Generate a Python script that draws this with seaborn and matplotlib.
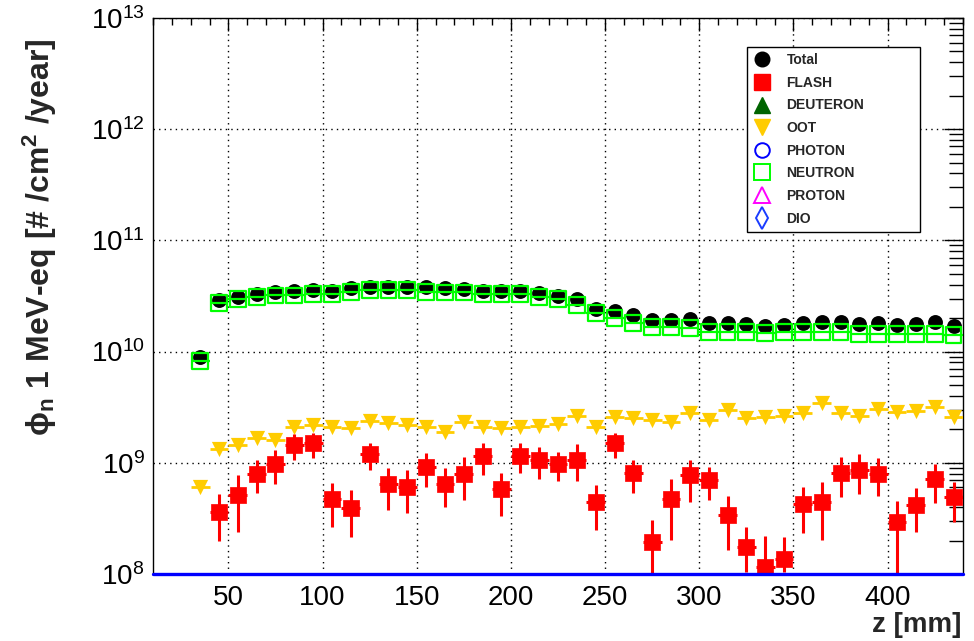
import numpy as np
import pandas as pd
import matplotlib
matplotlib.use("Agg")
import matplotlib.pyplot as plt
import seaborn as sns
from matplotlib.lines import Line2D
from matplotlib.ticker import LogLocator, MultipleLocator, NullFormatter

# ---------------- data ----------------
z = [35, 45, 55, 65, 75, 85, 95, 105, 115, 125, 135, 145, 155, 165, 175, 185,
     195, 205, 215, 225, 235, 245, 255, 265, 275, 285, 295, 305, 315, 325, 335,
     345, 355, 365, 375, 385, 395, 405, 415, 425, 435]

total = [8.9e9, 2.91e10, 3.12e10, 3.30e10, 3.46e10, 3.50e10, 3.58e10, 3.54e10,
         3.70e10, 3.84e10, 3.84e10, 3.78e10, 3.78e10, 3.70e10, 3.67e10, 3.54e10,
         3.48e10, 3.50e10, 3.39e10, 3.16e10, 2.95e10, 2.42e10, 2.33e10, 2.13e10,
         1.92e10, 1.92e10, 1.95e10, 1.80e10, 1.80e10, 1.77e10, 1.70e10, 1.74e10,
         1.80e10, 1.86e10, 1.83e10, 1.78e10, 1.80e10, 1.74e10, 1.77e10, 1.83e10,
         1.70e10]

neutron = [8.3e9, 2.75e10, 2.97e10, 3.12e10, 3.20e10, 3.20e10, 3.30e10, 3.30e10,
           3.44e10, 3.55e10, 3.55e10, 3.55e10, 3.46e10, 3.40e10, 3.40e10, 3.30e10,
           3.30e10, 3.30e10, 3.12e10, 2.95e10, 2.62e10, 2.24e10, 2.00e10, 1.80e10,
           1.67e10, 1.66e10, 1.62e10, 1.51e10, 1.51e10, 1.49e10, 1.48e10, 1.49e10,
           1.50e10, 1.50e10, 1.50e10, 1.43e10, 1.43e10, 1.44e10, 1.44e10, 1.44e10,
           1.40e10]

oot = [6.1e8, 1.34e9, 1.46e9, 1.66e9, 1.60e9, 2.08e9, 2.19e9, 2.08e9, 2.04e9,
       2.39e9, 2.27e9, 2.19e9, 2.11e9, 1.91e9, 2.31e9, 2.11e9, 2.04e9, 2.08e9,
       2.13e9, 2.25e9, 2.64e9, 2.11e9, 2.60e9, 2.51e9, 2.43e9, 2.35e9, 2.79e9,
       2.45e9, 2.98e9, 2.51e9, 2.60e9, 2.64e9, 2.83e9, 3.43e9, 2.79e9, 2.64e9,
       3.05e9, 2.89e9, 2.92e9, 3.20e9, 2.60e9]

flash = [np.nan, 3.63e8, 5.13e8, 8.0e8, 9.75e8, 1.45e9, 1.52e9, 4.72e8, 3.89e8,
         1.20e9, 6.44e8, 6.10e8, 9.2e8, 6.44e8, 8.0e8, 1.15e9, 5.78e8, 1.15e9,
         1.06e9, 9.75e8, 1.07e9, 4.4e8, 1.50e9, 8.15e8, 1.95e8, 4.7e8, 7.76e8,
         7.0e8, 3.39e8, 1.74e8, 1.16e8, 1.36e8, 4.3e8, 4.47e8, 8.15e8, 8.6e8,
         8.0e8, 2.92e8, 4.17e8, 7.1e8, 4.9e8]

flash_hi = [np.nan, 5.25e8, 7.8e8, 1.07e9, 1.30e9, 1.82e9, 1.86e9, 6.6e8, 5.7e8,
            1.51e9, 9.0e8, 8.6e8, 1.22e9, 8.9e8, 1.12e9, 1.50e9, 8.1e8, 1.50e9,
            1.38e9, 1.26e9, 1.47e9, 6.3e8, 1.86e9, 1.07e9, 3.06e8, 7.2e8, 1.06e9,
            9.2e8, 5.0e8, 2.63e8, 2.2e8, 2.16e8, 6.1e8, 6.76e8, 1.12e9, 1.20e9,
            1.10e9, 4.5e8, 5.9e8, 9.8e8, 6.76e8]

flash_lo = [np.nan, 2.0e8, 2.4e8, 5.4e8, 6.5e8, 1.05e9, 1.10e9, 2.63e8, 2.14e8,
            8.6e8, 3.76e8, 3.55e8, 6.0e8, 4.03e8, 4.62e8, 7.8e8, 3.3e8, 8.1e8,
            7.1e8, 6.8e8, 6.9e8, 2.48e8, 1.10e9, 5.4e8, 5.0e7, 2.04e8, 4.47e8,
            4.62e8, 1.66e8, 1.05e8, 5.0e7, 1.05e8, 2.34e8, 2.04e8, 4.9e8, 5.25e8,
            5.0e8, 5.0e7, 2.4e8, 4.37e8, 2.95e8]

legend_labels = ["Total", "FLASH", "DEUTERON", "OOT", "PHOTON", "NEUTRON", "PROTON", "DIO"]
x_ticks = [50, 100, 150, 200, 250, 300, 350, 400]

df = pd.DataFrame({"z": z, "total": total, "neutron": neutron, "oot": oot,
                   "flash": flash, "flash_hi": flash_hi, "flash_lo": flash_lo})

# ---------------- style ----------------
sns.set_theme(style="white")
plt.rcParams["font.family"] = ["Liberation Sans", "DejaVu Sans"]
plt.rcParams["mathtext.fontset"] = "custom"
plt.rcParams["mathtext.rm"] = "Liberation Sans"
plt.rcParams["mathtext.it"] = "Liberation Sans:italic"
plt.rcParams["mathtext.bf"] = "Liberation Sans:bold"

W, H = 974, 641
fig = plt.figure(figsize=(W / 100, H / 100), dpi=100)
fig.patch.set_facecolor("white")
ax = fig.add_axes([153 / W, 67 / H, 810 / W, 556 / H])
ax.set_facecolor("white")

RED = "#ff0000"
YEL = "#ffcc00"
GRN = "#00ff00"

ax.set_yscale("log")
ax.set_xlim(10, 440)
ax.set_ylim(1e8, 1e13)

# grid
ax.grid(True, which="major", color="black", linestyle=(0, (1, 3)), linewidth=1.0)
ax.set_axisbelow(True)

# Total
sns.scatterplot(data=df, x="z", y="total", marker="o", s=115, color="black",
                edgecolor="black", linewidth=0, ax=ax, legend=False, zorder=3)

# Neutron
ax.errorbar(df["z"], df["neutron"], xerr=5, fmt="none", ecolor=GRN,
            elinewidth=1.6, capsize=0, zorder=4)
sns.scatterplot(data=df, x="z", y="neutron", marker="s", s=130, color=GRN,
                facecolor="none", edgecolor=GRN, linewidth=1.6, ax=ax,
                legend=False, zorder=4)

# OOT
ax.errorbar(df["z"], df["oot"], xerr=5, fmt="none", ecolor=YEL,
            elinewidth=2.0, linestyle=(0, (1, 2)), capsize=0, zorder=3)
sns.scatterplot(data=df, x="z", y="oot", marker="v", s=120, color=YEL,
                edgecolor=YEL, linewidth=0, ax=ax, legend=False, zorder=3)

# FLASH
fl = df.dropna()
yerr = np.vstack([fl["flash"] - fl["flash_lo"], fl["flash_hi"] - fl["flash"]])
ax.errorbar(fl["z"], fl["flash"], yerr=yerr, xerr=5, fmt="none", ecolor=RED,
            elinewidth=2.2, capsize=0, zorder=3)
sns.scatterplot(data=fl, x="z", y="flash", marker="s", s=130, color=RED,
                edgecolor=RED, linewidth=0.5, ax=ax, legend=False, zorder=3)

# blue baseline (graphs at zero)
ax.axhline(1e8, color="#0000ff", lw=2.4, clip_on=False, zorder=5)

# ticks
ax.xaxis.set_major_locator(plt.FixedLocator(x_ticks))
ax.xaxis.set_minor_locator(MultipleLocator(10))
ax.yaxis.set_major_locator(LogLocator(base=10, numticks=10))
ax.yaxis.set_minor_locator(LogLocator(base=10, subs=np.arange(2, 10), numticks=20))
ax.yaxis.set_minor_formatter(NullFormatter())
ax.tick_params(which="both", direction="in", top=True, right=True,
               colors="black", labelcolor="black", width=1)
ax.tick_params(axis="x", which="major", length=9, labelsize=20, pad=8)
ax.tick_params(axis="x", which="minor", length=5)
ax.tick_params(axis="y", which="major", length=14, labelsize=20, pad=6)
ax.tick_params(axis="y", which="minor", length=10)
for s in ax.spines.values():
    s.set_color("black")
    s.set_linewidth(1.0)
ax.set_xlabel("")
ax.set_ylabel("")

fig.text(961 / W, 3 / H, "z [mm]", ha="right", va="bottom",
         fontsize=20, fontweight="bold")
fig.text(40 / W, 1 - 237 / H,
         r"ϕ$_{\mathbf{n}}$ 1 MeV-eq [# /cm$^{\mathbf{2}}$ /year]",
         rotation=90, ha="center", va="center", fontsize=23, fontweight="bold")

# legend
handles = [
    Line2D([], [], ls="none", marker="o", ms=10.5, color="black", mec="black"),
    Line2D([], [], ls="none", marker="s", ms=11, color=RED, mec=RED),
    Line2D([], [], ls="none", marker="^", ms=11, color="#006400", mec="#006400"),
    Line2D([], [], ls="none", marker="v", ms=11, color=YEL, mec=YEL),
    Line2D([], [], ls="none", marker="o", ms=10.5, mfc="none", mec="#0000ff", mew=1.4),
    Line2D([], [], ls="none", marker="s", ms=11, mfc="none", mec=GRN, mew=1.4),
    Line2D([], [], ls="none", marker="^", ms=12, mfc="none", mec="#ff00ff", mew=1.4),
    Line2D([], [], ls="none", marker="d", ms=11, mfc="none", mec="#1a3cff", mew=1.4),
]
x0 = (747 - 153) / 810
y0 = (574 - 234) / 556
leg = ax.legend(handles, legend_labels, loc="upper left", mode="expand",
                bbox_to_anchor=(x0, y0, (920 - 747) / 810, (234 - 47) / 556),
                frameon=True, fancybox=False, shadow=False, framealpha=1,
                edgecolor="black", prop={"weight": "bold", "size": 10},
                labelspacing=0.62, handlelength=1.3, handletextpad=1.1,
                borderpad=0.45, borderaxespad=0)
leg.get_frame().set_linewidth(1.0)
leg.set_zorder(10)

fig.savefig("out.png", dpi=100)
